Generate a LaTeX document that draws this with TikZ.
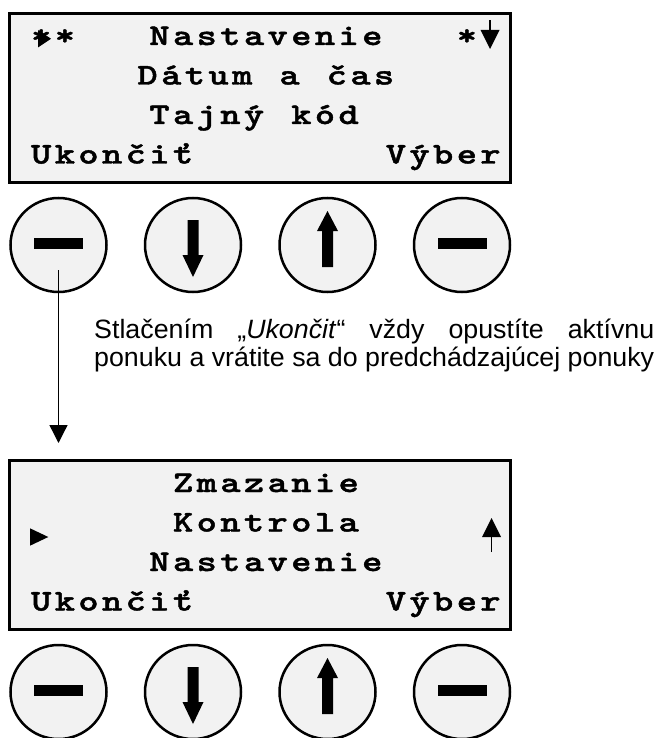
\documentclass[tikz,border=0pt]{standalone}
\usepackage{fontspec}
\usepackage{graphicx}
\usetikzlibrary{shapes.geometric,arrows.meta,calc}
\newfontfamily\descfont{Liberation Sans}
\newfontfamily\lcdfont{lmmonolt10-bold.otf}[FakeBold=1.3]
\definecolor{lcdgray}{HTML}{F2F2F2}
\newlength\lcdpitch \setlength\lcdpitch{23.65pt}
\def\lcdend{\lcdend}
\def\lcdloop#1{\ifx#1\lcdend\else\makebox[\lcdpitch][c]{\scalebox{1.28}[1]{#1}}\expandafter\lcdloop\fi}
\newcommand\lcdrow[1]{\lcdloop#1\lcdend}
\newsavebox\lineb
\tikzset{
  lcdbox/.style={draw, line width=3pt, fill=lcdgray, minimum width=501pt, minimum height=169pt, inner sep=0pt},
  lcdtext/.style={font=\lcdfont\fontsize{30}{30}\selectfont, inner sep=0pt, anchor=base west},
  btn/.style={ellipse, draw, line width=2.5pt, fill=lcdgray, minimum width=96pt, minimum height=94pt, inner sep=0pt},
  minusbar/.style={fill=black, minimum width=49pt, minimum height=11pt, inner sep=0pt},
  desc/.style={font=\descfont\fontsize{26.5}{28}\selectfont, inner sep=0pt, anchor=base west},
  conn/.style={line width=1.3pt, -{Triangle[length=18pt,width=18pt]}},
  downarr/.pic={\fill (-5.5,-25) -- (5.5,-25) -- (5.5,10) -- (10.5,10) -- (0,32) -- (-10.5,10) -- (-5.5,10) -- cycle;},
  uparr/.pic={\fill (0,-34) -- (10.5,-14) -- (5.5,-14) -- (5.5,22) -- (-5.5,22) -- (-5.5,-14) -- (-10.5,-14) -- cycle;}
}
\begin{document}
\begin{tikzpicture}[x=1pt,y=-1pt]
\useasboundingbox (0,0) rectangle (661,738);
% ---------- top display ----------
\node[lcdbox] (lcd1) at (260,98) {};
\node[lcdtext] (l1a) at (29.175,45) {\lcdrow{**~~~Nastavenie~~~*~}};
\fill (38,30) -- (38,47.5) -- (51,38.75) -- cycle;
\draw[line width=1.5pt] (490,20.5) -- (490,31);
\fill (480.5,30) -- (499.5,30) -- (490,49) -- cycle;
\node[lcdtext] (l1b) at (135.6,84.5) {\lcdrow{Dátum~a~čas}};
\node[lcdtext] (l1c) at (147.4,124) {\lcdrow{Tajný~kód}};
\node[lcdtext] (l1d) at (29.175,163.5) {\lcdrow{Ukončiť~~~~~~~~Výber}};
% ---------- top buttons ----------
\node[btn] (b1) at (58.5,245) {};
\node[btn] (b2) at (193,245) {};
\node[btn] (b3) at (327.5,245) {};
\node[btn] (b4) at (462,245) {};
\node[minusbar] (m1) at ($(b1)+(0,-1.5)$) {};
\node[minusbar] (m4) at ($(b4)+(0,-1.5)$) {};
\pic at (b2) {downarr};
\pic at (b3) {uparr};
% ---------- connector ----------
\coordinate (cs) at (58.5,270);
\coordinate (ce) at (58.5,443);
\draw[conn] (cs) -- (ce);
% ---------- description ----------
\node[desc] (t1) at (94,338) {\sbox\lineb{ponuku a vrátite sa do predchádzajúcej ponuky}\resizebox{560pt}{\height}{\makebox[\wd\lineb][s]{Stlačením „\textit{Ukončit}“ vždy opustíte aktívnu}}};
\node[desc] (t2) at (94,366) {\resizebox{560pt}{\height}{ponuku a vrátite sa do predchádzajúcej ponuky}};
% ---------- bottom display ----------
\node[lcdbox] (lcd2) at (260,545) {};
\node[lcdtext] (l2a) at (171.1,492) {\lcdrow{Zmazanie}};
\node[lcdtext] (l2b) at (171.1,531.5) {\lcdrow{Kontrola}};
\node[lcdtext] (l2c) at (147.4,571) {\lcdrow{Nastavenie}};
\node[lcdtext] (l2d) at (29.175,610.5) {\lcdrow{Ukončiť~~~~~~~~Výber}};
\fill (30,528.3) -- (30,545.7) -- (48.3,537) -- cycle;
\draw[line width=1.5pt] (491.5,552) -- (491.5,535);
\fill (482,537) -- (501,537) -- (491.5,518) -- cycle;
% ---------- bottom buttons ----------
\node[btn] (c1) at (58.5,692) {};
\node[btn] (c2) at (193,692) {};
\node[btn] (c3) at (327.5,692) {};
\node[btn] (c4) at (462,692) {};
\node[minusbar] (n1) at ($(c1)+(0,-1.5)$) {};
\node[minusbar] (n4) at ($(c4)+(0,-1.5)$) {};
\pic at (c2) {downarr};
\pic at (c3) {uparr};
\end{tikzpicture}
\end{document}
